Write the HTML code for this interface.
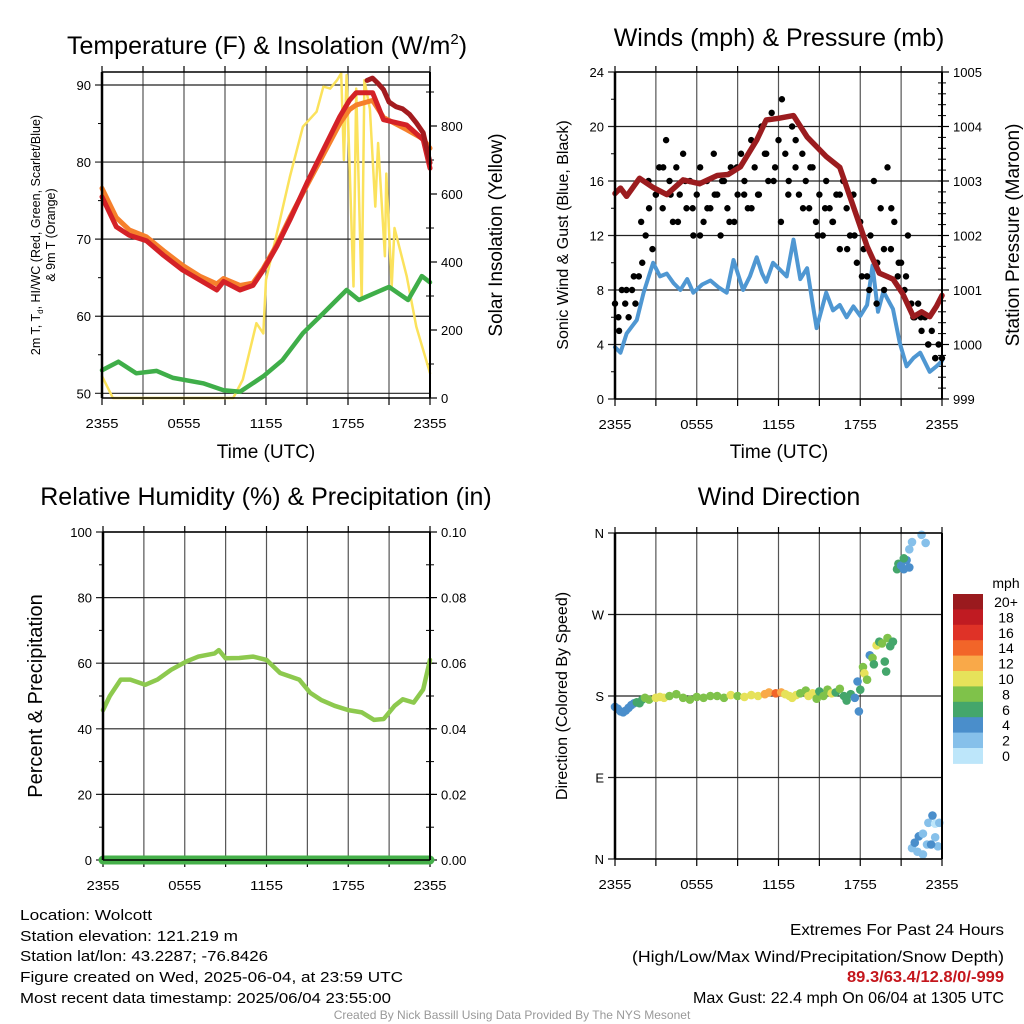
<!DOCTYPE html>
<html><head><meta charset="utf-8"><style>
html,body{margin:0;padding:0;background:#fff;}
svg{display:block;font-family:"Liberation Sans",sans-serif;}
</style></head><body>
<svg id="c" width="1024" height="1024" viewBox="0 0 1024 1024">
<g id="g1"></g>
<g id="g2"></g>
<g id="g3"></g>
<g id="g4"></g>
<g id="cb"></g>
<g font-size="15" fill="#000">
<text x="20" y="920" textLength="132" lengthAdjust="spacingAndGlyphs">Location: Wolcott</text>
<text x="20" y="941" textLength="218" lengthAdjust="spacingAndGlyphs">Station elevation: 121.219 m</text>
<text x="20" y="961" textLength="248" lengthAdjust="spacingAndGlyphs">Station lat/lon: 43.2287; -76.8426</text>
<text x="20" y="982" textLength="383" lengthAdjust="spacingAndGlyphs">Figure created on Wed, 2025-06-04, at 23:59 UTC</text>
<text x="20" y="1003" textLength="371" lengthAdjust="spacingAndGlyphs">Most recent data timestamp: 2025/06/04 23:55:00</text>
</g>
<g font-size="16" text-anchor="start">
<text x="790" y="935" textLength="214" lengthAdjust="spacingAndGlyphs">Extremes For Past 24 Hours</text>
<text x="632" y="962" textLength="372" lengthAdjust="spacingAndGlyphs">(High/Low/Max Wind/Precipitation/Snow Depth)</text>
<text x="847" y="982" textLength="157" lengthAdjust="spacingAndGlyphs" fill="#c4161c" font-weight="bold">89.3/63.4/12.8/0/-999</text>
<text x="693" y="1003" textLength="311" lengthAdjust="spacingAndGlyphs">Max Gust: 22.4 mph On 06/04 at 1305 UTC</text>
</g>
<text x="512" y="1019" font-size="12" fill="#999" text-anchor="middle">Created By Nick Bassill Using Data Provided By The NYS Mesonet</text>
</svg>
<script>
const xTickLabels=["2355","0555","1155","1755","2355"];
const tempT=[0,1.05,2,3.25,4.5,5.9,7.15,8.4,8.9,10.1,11.05,11.8,12.8,13.75,15,16.2,17.4,18.1,18.6,19.8,20.6,22.3,23.5,24];
const tempRed=[75.5,71.6,70.5,69.8,67.9,66,64.7,63.4,64.5,63.4,64,66,69.1,72.5,77.3,81.6,85.9,88,89,89,85.5,84.8,82.9,79.2];
const tempOrange=[76.6,72.8,71.2,70.3,68.5,66.6,65.2,64.2,64.9,64,64.3,66.2,69.3,72.8,77,81,85,86.8,87.4,88,85.8,84.2,83,81.8];
const hiT=[19.4,19.8,20.2,20.6,21,21.5,22,22.5,23,23.5,24];
const hiVals=[90.6,90.9,90.2,89.4,87.8,87.2,86.9,86.2,85.1,83.8,79.9];
const dewT=[0,1.2,2.5,4,5.2,7.4,8.9,10.1,11.8,13.2,14.7,16.2,17.9,18.8,21,22.4,23.4,24];
const dewVals=[53,54.1,52.6,52.9,52,51.3,50.4,50.2,52.2,54.3,57.8,60.4,63.4,62.1,63.8,62.1,65.2,64.4];
const solT=[0,0.8,9.6,10.3,11.3,11.8,12,12.8,13.75,14.7,15.7,16.2,16.7,17.2,17.5,17.7,17.9,18.4,18.6,19,19.2,19.6,20,20.2,20.7,20.8,21.2,21.4,22.3,23,24];
const solVals=[64,0,0,54,220,190,348,485,651,798,842,916,910,935,955,700,950,328,910,289,935,850,563,750,417,660,328,500,357,210,73];
const windT=[0,0.4,0.85,1.6,2.1,2.8,3.3,3.8,4.3,4.8,5.3,5.75,6.4,7,7.6,8.2,8.7,9.4,9.9,10.4,10.8,11.1,11.6,12.1,12.6,13.1,13.6,14.1,14.5,14.8,15.5,16,16.5,17,17.5,18,18.5,18.9,19.3,19.7,20.4,20.9,21.4,21.9,22.4,23.1,23.6,24];
const windVals=[3.8,3.4,4.8,5.8,7.8,10,9,9.2,8.5,8,8.8,7.8,8.4,8.7,8.2,7.8,10.2,8,9,10.4,9.2,8.6,10,9.5,9,11.7,8.8,9.6,7,5.2,7.8,6.5,6.9,6,6.8,6.1,6.9,9.8,6.4,7.9,6.6,4.1,2.4,3,3.4,2,2.4,2.8];
const presT=[0,0.4,0.85,1.8,2.8,3.8,5,6.2,7.5,8.3,9.2,10.4,11.1,12,13.1,14.1,15.5,16.5,17.5,18.5,19.4,20.4,21.1,21.9,22.5,23.1,23.6,24];
const presVals=[1002.77,1002.87,1002.72,1003.05,1002.88,1002.75,1003.02,1002.95,1003.1,1003.12,1003.26,1003.75,1004.12,1004.15,1004.2,1003.81,1003.45,1003.25,1002.53,1001.8,1001.31,1001.2,1000.94,1000.51,1000.6,1000.51,1000.7,1000.9];
const gustVals=[7,6,8,7,6,8,7,9,10,12,14,11,15,17,14,19,16,13,17,15,18,14,16,12,15,17,13,16,14,18,15,12,16,14,17,13,15,18,16,14,19,17,15,20,18,16,21,17,19,22,18,16,20,17,15,18,16,14,17,13,15,12,16,14,13,15,11,16,14,12,15,10,13,11,9,12,16,10,14,8,17,11,13,9,10,8,12,7,6,7,5,6,4,5,3,4,3];
const gust2Vals=[5,8,9,13,16,15,17,15,13,16,14,12,14,15,16,13,17,15,14,15,18,16,13,15,19,14,17,12,14,13,15,11,12,9,8,7,11,14,10,9,6,6,4,3];
const rhT=[0,0.5,1.3,2,3.1,4,5,6.1,7,8.2,8.5,9,10,11,12,13,14.4,15.2,16,17,18,19,19.9,20.6,21.4,22,22.8,23.5,24];
const rhVals=[45.7,50,55,55,53.4,55,58,60.5,62,63,64,61.5,61.6,62,61,57,55,51,48.8,47,45.7,45,42.7,43,47,49,48,52,61];
const precipT=[0,24];
const precipVals=[0,0];
const dirT=[0,0.2,0.4,0.6,0.8,1.0,1.2,1.4,1.6,1.8,2.0,2.2,2.5,3.0,3.3,3.6,4.0,4.5,5.0,5.5,6.0,6.5,7.0,7.5,8.0,8.5,9.0,9.5,10.0,10.5,11.0,11.3,11.8,12.2,12.5,12.8,13.0,13.3,13.6,14.0,14.2,14.5,14.8,15.0,15.3,15.6,15.9,16.2,16.5,16.8,17.0,17.3,17.6,17.8,17.9,18.0,18.2,18.3,18.5,18.7,18.9,19.0,19.2,19.4,19.6,19.8,20.0,20.2,20.4,19.9,20.7,20.8,21.0,21.2,21.4,21.6,21.2,21.6,21.8,22.5,22.8,21.8,22.0,22.3,22.6,22.9,23.0,23.3,23.5,23.7,23.8,23.5,22.2,22.6,23.2];
const dirVals=[168,166,163,162,164,167,170,172,173,172,176,178,176,178,179,178,180,182,178,176,179,178,180,180,178,181,180,179,181,180,182,184,183,184,182,180,178,181,183,186,180,183,177,185,180,187,183,184,188,180,175,182,178,196,163,187,212,205,198,225,222,215,236,240,238,218,244,235,240,207,320,326,324,320,330,322,332,342,350,358,349,12,18,25,28,16,40,48,39,14,40,24,8,5,16];
const dirSpd=[4,4,4,4,4,4,4,4,5,6,6,7,8,9,10,10,8,8,8,8,8,8,7,8,8,10,8,10,10,10,11,12,13,11,10,10,10,10,7,8,10,9,8,6,7,7,10,6,7,6,6,6,4,4,4,6,7,10,8,4,8,6,10,6,7,6,8,6,6,6,6,6,4,4,4,4,6,2,2,2,2,2,4,4,2,2,1,4,0,2,2,2,2,2,4];
const cbLabels=["20+","18","16","14","12","10","8","6","4","2","0"];
const cbColors=["#9a1a1e","#c01b22","#df3227","#f26529","#f9a949","#e6e25a","#7fc24a","#44a66b","#4a8ecb","#86c0ea","#bde6fa"];

const NS='http://www.w3.org/2000/svg';
function el(p,tag,attrs){const e=document.createElementNS(NS,tag);for(const k in attrs)e.setAttribute(k,attrs[k]);p.appendChild(e);return e;}
function txt(p,x,y,s,size,anchor,extra){const t=el(p,'text',Object.assign({x:x,y:y,'font-size':size,'text-anchor':anchor||'middle'},extra||{}));t.textContent=s;return t;}
function lin(d0,d1,r0,r1){return v=>r0+(v-d0)/(d1-d0)*(r1-r0);}

function frame(g,L,R,T,B,yTicks,yS,yLab,minorL,yTicksR,yRS,yRLab,minorR){
  const xs=lin(0,24,L,R);
  for(let h=3;h<24;h+=3){const l=el(g,'line',{x1:xs(h),x2:xs(h),y1:T,y2:B,stroke:'#555','stroke-width':1.2});
    }
  yTicks.forEach((v,i)=>{const y=yS(v);
    const l=el(g,'line',{x1:L-7,x2:R,y1:y,y2:y,stroke:'#222','stroke-width':1.2});
    
    const t=txt(g,L-11,y+5,yLab[i],13,'end');
    });
  minorL.forEach(v=>{const y=yS(v);el(g,'line',{x1:L-4,x2:L,y1:y,y2:y,stroke:'#000','stroke-width':1});});
  if(yTicksR){yTicksR.forEach((v,i)=>{const y=yRS(v);
    el(g,'line',{x1:R,x2:R+7,y1:y,y2:y,stroke:'#000','stroke-width':1.2});
    const t=txt(g,R+11,y+5,yRLab[i],13,'start');
    });
    minorR.forEach(v=>{const y=yRS(v);el(g,'line',{x1:R-4,x2:R+4,y1:y,y2:y,stroke:'#000','stroke-width':1});});}
  for(let h=0;h<=24;h+=3){el(g,'line',{x1:xs(h),x2:xs(h),y1:B,y2:B+7,stroke:'#000','stroke-width':1.2});
    el(g,'line',{x1:xs(h),x2:xs(h),y1:T-6,y2:T,stroke:'#000','stroke-width':1.2});}
  xTickLabels.forEach((s,i)=>{const t=txt(g,xs(i*6),B+30,s,13,'middle',{textLength:33,lengthAdjust:'spacingAndGlyphs'});
    });
  return xs;
}
function border(g,L,R,T,B){
  el(g,'line',{x1:L,x2:L,y1:T,y2:B,stroke:'#000','stroke-width':2.5});
  el(g,'line',{x1:R,x2:R,y1:T,y2:B,stroke:'#000','stroke-width':2});
  el(g,'line',{x1:L,x2:R,y1:T,y2:T,stroke:'#000','stroke-width':1.5});
  el(g,'line',{x1:L,x2:R,y1:B,y2:B,stroke:'#000','stroke-width':1.5});
}
function path(g,xs,ys,T,V,color,w,name){
  let d='';T.forEach((t,i)=>{d+=(i?'L':'M')+xs(t).toFixed(1)+','+ys(V[i]).toFixed(1);});
  const p=el(g,'path',{d:d,fill:'none',stroke:color,'stroke-width':w,'stroke-linejoin':'round','stroke-linecap':'round'});
  return p;
}
function range(a,b,s){const r=[];for(let v=a;v<=b+1e-9;v+=s)r.push(+v.toFixed(4));return r;}

(function(){const g=document.getElementById('g1');const L=102,R=430,T=72,B=398;
 const ys=lin(50,90,393.3,85),yr=lin(0,800,398,126);
 const xs=frame(g,L,R,T,B,[50,60,70,80,90],ys,["50","60","70","80","90"],range(55,85,10),[0,200,400,600,800],yr,["0","200","400","600","800"],range(100,900,200));
 path(g,xs,yr,solT,solVals,'#fbe25c',2.5,'solar-insolation-line');
 path(g,xs,ys,dewT,dewVals,'#3fae49',4.5,'dewpoint-line');
 path(g,xs,ys,tempT,tempOrange,'#f6802c',5,'temp-9m-line');
 path(g,xs,ys,tempT,tempRed,'#d42127',5,'temp-2m-line');
 path(g,xs,ys,hiT,hiVals,'#a31b1f',5,'heat-index-line');
 border(g,L,R,T,B);
 let t=txt(g,267,54,'',25,'middle');
 t.innerHTML='Temperature (F) &amp; Insolation (W/m<tspan font-size="15" dy="-10">2</tspan><tspan dy="10">)</tspan>';
 t=txt(g,266,458,'Time (UTC)',19);
 t=txt(g,0,0,'2m T, T',12.5,'middle',{transform:'translate(40,235) rotate(-90)'});
 t.innerHTML='2m T, T<tspan font-size="8" dy="3">d</tspan><tspan dy="-3">, HI/WC (Red, Green, Scarlet/Blue)</tspan>';
 t=txt(g,0,0,'& 9m T (Orange)',12.5,'middle',{transform:'translate(55,235) rotate(-90)'});
 t=txt(g,0,0,'Solar Insolation (Yellow)',19,'middle',{transform:'translate(502,235) rotate(-90)'});
})();

(function(){const g=document.getElementById('g2');const L=615,R=942,T=72,B=399;
 const ys=lin(0,24,399,72),yr=lin(999,1005,399,72);
 const xs=frame(g,L,R,T,B,[0,4,8,12,16,20,24],ys,["0","4","8","12","16","20","24"],range(2,22,4),[999,1000,1001,1002,1003,1004,1005],yr,["999","1000","1001","1002","1003","1004","1005"],range(999.2,1004.8,0.2));
 path(g,xs,ys,windT,windVals,'#4f97d2',4,'sonic-wind-line');
 gustVals.forEach((v,i)=>{const c=el(g,'circle',{cx:xs(i*0.25),cy:ys(v),r:3.2,fill:'#000'});
  });
 gust2Vals.forEach((v,i)=>{const c=el(g,'circle',{cx:xs(0.3+i*0.54),cy:ys(v),r:3.2,fill:'#000'});
  });
 path(g,xs,yr,presT,presVals,'#9b1c1f',5.5,'pressure-line');
 border(g,L,R,T,B);
 let t=txt(g,779,46,'Winds (mph) & Pressure (mb)',25);
 t=txt(g,779,458,'Time (UTC)',19);
 t=txt(g,0,0,'Sonic Wind & Gust (Blue, Black)',16,'middle',{transform:'translate(568,235) rotate(-90)'});
 t=txt(g,0,0,'Station Pressure (Maroon)',19,'middle',{transform:'translate(1019,235) rotate(-90)'});
})();

(function(){const g=document.getElementById('g3');const L=103,R=430,T=532,B=860;
 const ys=lin(0,100,860,532),yr=lin(0,0.1,860,532);
 const xs=frame(g,L,R,T,B,[0,20,40,60,80,100],ys,["0","20","40","60","80","100"],range(10,90,20),[0,0.02,0.04,0.06,0.08,0.1],yr,["0.00","0.02","0.04","0.06","0.08","0.10"],range(0.01,0.09,0.01));
 path(g,xs,ys,rhT,rhVals,'#8dc94e',4.5,'relative-humidity-line');
 path(g,xs,yr,precipT,precipVals,'#45b04a',9,'precipitation-line');
 border(g,L,R,T,B);
 let t=txt(g,266,505,'Relative Humidity (%) & Precipitation (in)',25);
 t=txt(g,0,0,'Percent & Precipitation',20,'middle',{transform:'translate(42,696) rotate(-90)'});
})();

(function(){const g=document.getElementById('g4');const L=615,R=942,T=533,B=859;
 const ys=lin(0,360,859,533);
 const xs=frame(g,L,R,T,B,[0,90,180,270,360],ys,["N","E","S","W","N"],[],null);
 function col(s){let i=Math.round(s/2);if(i>10)i=10;return cbColors[10-i];}
 dirT.forEach((t,i)=>{const c=el(g,'circle',{cx:xs(t),cy:ys(dirVals[i]),r:4.3,fill:col(dirSpd[i])});
  });
 border(g,L,R,T,B);
 let t=txt(g,779,505,'Wind Direction',25);
 t=txt(g,0,0,'Direction (Colored By Speed)',16,'middle',{transform:'translate(567,696) rotate(-90)'});
})();

(function(){const g=document.getElementById('cb');const x=953,y0=594,h=15.4;
 cbColors.forEach((c,i)=>{const r=el(g,'rect',{x:x,y:y0+i*h,width:30,height:h+0.5,fill:c});
  
  const t=txt(g,1006,y0+i*h+13,cbLabels[i],14);});
 const t=txt(g,1006,588,'mph',14);
})();
</script>
</body></html>
